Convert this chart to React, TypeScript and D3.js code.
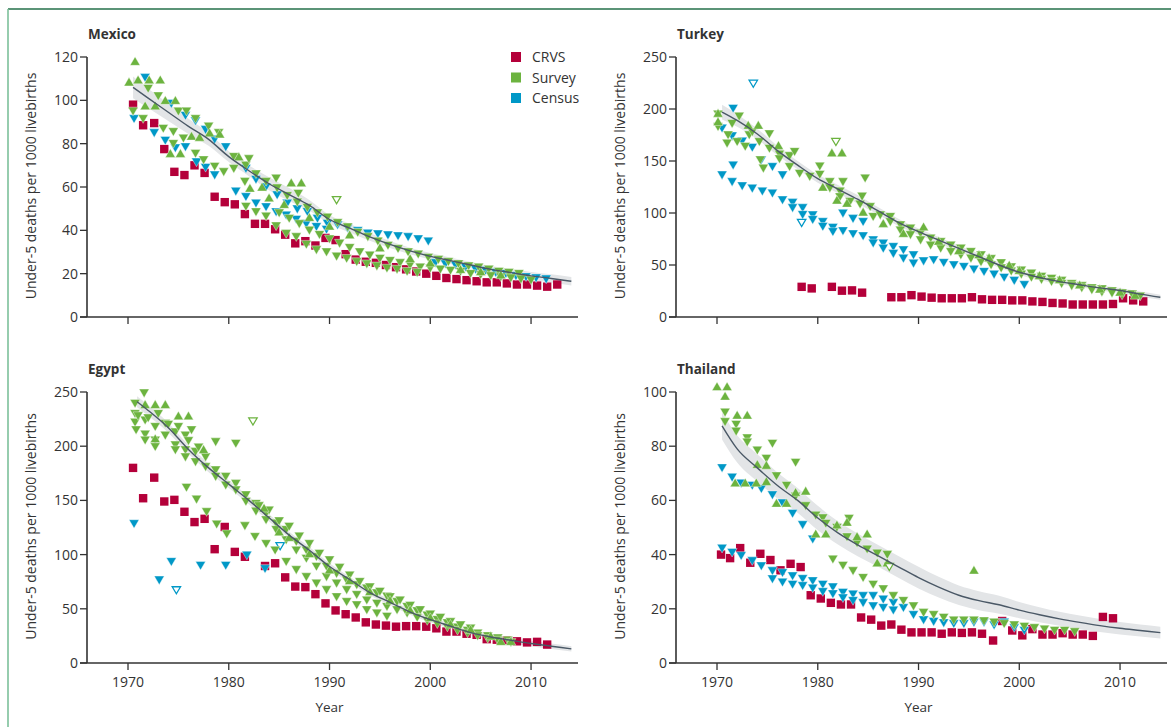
import React from 'react';
import * as d3 from 'd3';

type P = [number, number];
type B = [number, number, number];

// ---------- ticks & labels ----------
const yearTicks = [1970, 1980, 1990, 2000, 2010];
const mexicoTicks = [0, 20, 40, 60, 80, 100, 120];
const turkeyTicks = [0, 50, 100, 150, 200, 250];
const egyptTicks = [0, 50, 100, 150, 200, 250];
const thailandTicks = [0, 20, 40, 60, 80, 100];
const legendLabels = ['CRVS', 'Survey', 'Census'];
const yLabel = 'Under-5 deaths per 1000 livebirths';
const xLabel = 'Year';

// ---------- Mexico ----------
const mexicoCrvs: P[] = [[1970.5,98],[1971.5,88.5],[1972.6,89.5],[1973.6,77.5],[1974.6,67],[1975.6,65.5],[1976.6,70],[1977.6,66.5],[1978.6,55.5],[1979.6,53],[1980.6,52],[1981.6,47.5],[1982.6,43],[1983.6,43],[1984.6,40.5],[1985.6,38],[1986.6,34],[1987.6,35],[1988.6,33],[1989.6,36.5],[1990.6,35.5],[1991.6,29],[1992.6,26.5],[1993.6,25.5],[1994.6,25],[1995.6,24],[1996.6,23],[1997.6,22],[1998.6,21],[1999.6,20],[2000.6,19],[2001.6,18],[2002.6,17.5],[2003.6,17],[2004.6,16.5],[2005.6,16],[2006.6,16],[2007.6,15.5],[2008.6,15],[2009.6,15],[2010.6,14.5],[2011.6,14],[2012.6,15]];
const mexicoSurveyUp: P[] = [[1970.1,108.5],[1970.7,118],[1971,109.5],[1972.1,109.5],[1973.2,109.5],[1971.7,97.5],[1972.7,97.5],[1973.7,100],[1974.7,100],[1974.2,75.5],[1975.2,75.5],[1976.3,83.5],[1977.1,83],[1978.1,85],[1979.1,84.5],[1981,74],[1982.1,59.5],[1983.3,60],[1986.2,62],[1987.2,62],[1984,55],[1985.5,52],[1988,46],[1990,42],[1992,38],[1995,32],[1998,27],[2000,25],[2003,22],[2005,21],[2007,19.5]];
const mexicoSurveyDown: P[] = [[1970.5,95],[1971.5,91.5],[1972,105.5],[1973,102],[1973.5,87],[1974.5,85.5],[1974.5,80],[1975,95],[1975.5,82.5],[1975.8,95],[1976.7,91.5],[1976.7,75.5],[1977.5,72.5],[1978,88],[1978.6,69.5],[1979,85],[1979.5,67],[1980.5,68.5],[1980.5,74],[1981.6,62.5],[1981.7,70],[1982,73],[1982.7,66],[1983.7,62.5],[1984.7,64],[1984.8,59.5],[1985.8,56],[1986.9,57],[1986.8,53],[1987.8,50.5],[1988.8,48],[1989.8,46],[1990.8,43.5],[1991.8,41.5],[1992.8,39],[1993.8,37],[1994.8,35],[1995.8,33],[1996.8,31.5],[1997.8,30],[1998.8,29],[1999.8,27.5],[2000.8,26.5],[2001.8,25.5],[2002.8,24.5],[2003.8,23.5],[2004.8,23],[2005.8,22],[2006.8,21],[2007.8,20.5],[2008.8,20],[1985,48],[1986,45.5],[1987,43],[1988,40],[1989,38],[1990,36],[1991,34],[1992,32],[1993,30],[1994,28.5],[1995,27],[1996,26],[1997,25],[1998,24],[1999,23],[2000,22.5],[2001,22],[2002,21.5],[2003,21],[2004,20],[2005,19.5],[2006,19],[2007,18.5],[2008,18],[2009,17.5],[2010,17],[1981.7,51],[1982.7,48.5],[1983.7,46.5],[1984.7,42],[1985.7,38.5],[1986.7,37],[1987.7,33.5],[1988.7,31],[1989.7,30],[1990.7,28],[1991.7,27],[1992.7,25.5],[1993.7,24.5],[1994.7,23.5],[1995.7,22.5],[1996.7,22],[1997.7,21],[1998.7,20.5]];
const mexicoCensus: P[] = [[1970.6,91.5],[1971.7,110.5],[1972.6,85],[1973.7,81.5],[1974.3,98.5],[1974.7,78],[1975.7,78.5],[1975.7,93],[1976.7,90.5],[1976.8,71.5],[1977.7,86.5],[1977.7,69],[1978.6,65.5],[1978.6,82],[1979.7,78.5],[1980.7,58],[1981.7,68.5],[1981.7,55.5],[1982.7,63.5],[1982.7,52.5],[1983.7,60],[1983.7,50.8],[1984.8,56.3],[1984.7,48.5],[1985.8,52.5],[1985.7,47],[1986.8,49.8],[1986.7,45],[1987.8,48.6],[1987.7,43],[1988.8,45.5],[1988.7,41.7],[1989.8,43.2],[1989.7,40.4],[1990.8,42.5],[1991.8,41],[1992.8,39.8],[1993.8,38.6],[1994.8,38.3],[1995.8,37.8],[1996.8,37.4],[1997.8,37],[1998.8,36],[1999.8,35],[2000.5,25],[2001.5,24.5],[2002.5,24],[2003.5,23],[2004.5,22],[2005.5,21.5],[2006.5,20.5],[2007.5,20],[2008.5,19],[2009.5,18.5],[2010.5,18],[2011.5,17.5]];
const mexicoHollowSurvey: P[] = [[1990.7,54]];
const mexicoHollowCensus: P[] = [];
const mexicoFit: B[] = [[1970.5,106,5],[1972,101,4.5],[1974,94.5,4],[1976,88,3.5],[1978,82,3],[1980,74,2.5],[1982,67.5,2.5],[1984,61.5,3],[1986,56.5,3],[1988,51.5,2.5],[1990,45,2],[1992,41,2],[1994,37,1.8],[1996,33.5,1.6],[1998,30.5,1.5],[2000,28,1.5],[2002,26,1.5],[2004,24,1.5],[2006,22,1.5],[2008,20.5,1.6],[2010,19,1.8],[2012,17.8,1.9],[2014,16.5,2]];

// ---------- Turkey ----------
const turkeyCrvs: P[] = [[1978.4,29],[1979.4,27.5],[1981.4,29],[1982.4,25.3],[1983.4,25.6],[1984.4,23.4],[1987.3,19],[1988.3,19],[1989.3,21],[1990.3,19.6],[1991.3,18.6],[1992.3,18],[1993.3,18],[1994.3,18],[1995.3,19],[1996.3,17],[1997.3,16.5],[1998.3,16.5],[1999.3,16],[2000.3,16],[2001.3,15],[2002.3,14.5],[2003.3,13.5],[2004.3,13],[2005.3,12],[2006.3,12],[2007.3,12],[2008.3,12],[2009.3,12.5],[2010.3,18],[2011.3,16],[2012.3,15]];
const turkeySurveyUp: P[] = [[1970.1,196],[1970.1,188],[1973.1,184.5],[1974.1,184.5],[1976.1,165],[1981.4,158],[1982.4,158],[1980.5,125],[1981.9,112.5],[1982.9,109.5],[1984.5,101],[1986.5,90],[1988.5,80.5],[1990.5,86.8],[1992,73],[1994,64],[1996,60],[1997,57],[1999,50],[2000,45],[2002,40],[2004,36],[2006,31],[2008,27],[2010,24],[2011.5,21]];
const turkeySurveyDown: P[] = [[1970.1,195],[1970.1,183],[1971.1,175],[1971,167],[1972,168.5],[1972.2,193],[1973.2,175],[1972.8,164],[1974.2,168.5],[1975.2,176],[1975.2,162],[1974.3,151],[1974.6,143],[1976.2,156.5],[1976.2,152],[1977.2,155],[1977.2,144.5],[1977.7,159],[1978.2,138],[1979.2,135],[1980.2,145],[1980.2,137],[1981.2,130],[1981.2,124],[1982.2,121],[1982.2,115.5],[1982.5,130],[1983.2,111],[1984.2,108.5],[1984.4,116],[1984.7,133.5],[1985.2,106],[1985.5,96.5],[1986.2,98],[1987.2,96.5],[1987.2,91.5],[1988.2,88.5],[1988.2,83.5],[1989.2,85.3],[1989.2,79],[1990.2,80.5],[1990.2,74],[1991.2,75.7],[1991.2,69],[1992.2,72.4],[1992.2,66],[1993.2,69],[1993.2,62.8],[1994.2,66],[1994.2,59.6],[1995.2,62.8],[1995.2,56.4],[1996.2,59.6],[1996.2,53],[1997.2,56],[1997.2,50],[1998.2,52],[1998.2,47],[1999.2,48],[1999.2,44],[2000.2,45],[2000.2,41],[2001.2,42],[2001.2,38],[2002.2,39],[2002.2,36],[2003.2,37],[2003.2,34],[2004.2,35],[2004.2,32],[2005.2,32],[2005.2,30],[2006.2,30],[2006.2,28],[2007.2,28],[2007.2,26],[2008.2,27],[2008.2,24],[2009.2,25],[2009.2,23],[2010.2,23],[2010.2,21],[2011.2,22],[2012,20],[1971.5,186],[1973.5,178]];
const turkeyCensus: P[] = [[1970.5,181.5],[1971.6,200.5],[1971.5,174],[1972.5,169],[1973.5,163],[1974.4,151],[1975.5,144.5],[1976.5,136.5],[1977.5,110],[1977.5,105],[1978.5,105],[1978.5,98.4],[1979.5,98],[1979.5,93.6],[1980.5,91.6],[1980.5,87],[1981.5,86],[1981.5,82],[1982.5,82.8],[1982.5,99.7],[1983.5,79.8],[1983.5,94.6],[1984.5,77.9],[1984.5,91.6],[1985.5,74],[1985.5,71],[1986.5,70.8],[1986.5,66],[1987.5,67.6],[1987.5,61],[1988.5,64.4],[1988.5,56.4],[1989.5,59.6],[1989.5,51.6],[1990.5,53.8],[1991.5,54.8],[1992.5,52.2],[1993.5,50],[1994.5,48.4],[1995.5,45.8],[1996.5,43.6],[1997.5,41],[1998.5,38],[1999.5,35],[2000.5,31],[1970.5,136.5],[1971.5,130],[1971.6,146],[1972.5,126],[1973.5,123.7],[1974.5,121],[1975.5,119],[1976.5,112.5]];
const turkeyHollowSurvey: P[] = [[1981.8,168.5]];
const turkeyHollowCensus: P[] = [[1973.6,224.5],[1978.4,90.7]];
const turkeyFit: B[] = [[1970.5,197,7],[1972,189,6],[1974,176,5],[1976,160,4.5],[1978,146,4],[1980,133,4],[1982,123,4],[1984,113,4],[1986,102,3.5],[1988,91,3.5],[1990,82,3],[1992,74,3],[1994,66,3],[1996,58,3],[1998,50,2.5],[2000,43,2.5],[2002,38,2.5],[2004,34,2.5],[2006,31,2.5],[2008,28,2.5],[2010,25.5,2.5],[2012,22,2.5],[2014,19,2.5]];

// ---------- Egypt ----------
const egyptCrvs: P[] = [[1970.5,180],[1971.5,152],[1972.6,171],[1973.6,149],[1974.6,150.5],[1975.6,139.5],[1976.6,130],[1977.6,133],[1978.6,105],[1979.6,125.5],[1980.6,102.5],[1981.6,98],[1983.6,89.5],[1984.6,92],[1985.6,79],[1986.6,70.5],[1987.6,70],[1988.6,63.5],[1989.6,55],[1990.6,48.5],[1991.6,45],[1992.6,42],[1993.6,37.5],[1994.6,35.5],[1995.6,34.5],[1996.6,33.5],[1997.6,34],[1998.6,34],[1999.6,33.5],[2000.6,32],[2001.6,29],[2002.6,29],[2003.6,27],[2004.6,26],[2005.6,22],[2006.6,21.5],[2007.6,21],[2008.6,20],[2009.6,19],[2010.6,19.5],[2011.6,17]];
const egyptSurveyUp: P[] = [[1971.7,238.5],[1972.7,238.5],[1973.7,238.5],[1975,228],[1976,228],[1972.7,207],[1977.5,197],[1983.5,143],[1985,121],[1986,116],[1988,101],[1990,86],[1992,76],[1994,66],[1996,58],[1998,49],[2000,42],[2002,36],[2004,31],[2006,25],[2007,20],[2008,20]];
const egyptSurveyDown: P[] = [[1970.7,239.5],[1970.7,230],[1970.7,222],[1970.8,215],[1971.6,249],[1971.7,224],[1971.7,211],[1971.7,205.5],[1972.7,218],[1972.7,205.5],[1972.7,199.5],[1973.7,221],[1973.7,210],[1974.7,213],[1974.7,201],[1974.7,196.5],[1975.7,210],[1975.7,196.5],[1975.7,190],[1976.3,215],[1976.7,195],[1976.7,185.5],[1977.7,190],[1977.7,181],[1978.7,178],[1978.7,172],[1978.7,204],[1980.7,202.5],[1979.7,172],[1979.7,164],[1980.7,165.5],[1980.7,159.5],[1981.7,155],[1981.7,149],[1982.7,147],[1982.7,140],[1983.7,138],[1983.7,132],[1984.7,129],[1984.7,123],[1985.7,123],[1985.7,113.5],[1986.7,112],[1986.7,104],[1987.7,104],[1987.7,96.5],[1988.7,98],[1988.7,89],[1989.7,89],[1989.7,79.5],[1990.7,82.5],[1990.7,73.5],[1991.7,76.5],[1991.7,67.5],[1992.7,72],[1992.7,63],[1993.7,69],[1993.7,58],[1994.7,64.5],[1994.7,55],[1995.7,61.5],[1995.7,52],[1996.7,56.5],[1996.7,49],[1997.7,52],[1997.7,46],[1998.7,48],[1998.7,42],[1999.7,44],[1999.7,39],[2000.7,40],[2000.7,36],[2001.7,37],[2001.7,33],[2002.7,33],[2002.7,30],[2003.7,30],[2003.7,27.5],[2004.7,27.5],[2004.7,25],[2005.7,25],[2005.7,22.5],[2006.7,23],[2006.7,21],[2007.7,21],[2008,19],[1975.8,162],[1976.8,151],[1977.8,139.5],[1978.8,128],[1979.8,119],[1981.6,126.5],[1982.6,116.5],[1983.7,110],[1984.6,104],[1985.7,93.5],[1986.7,86],[1987.7,79.5],[1988.7,73.5],[1989.7,67.5],[1990.7,61],[1991.7,56.5],[1992.7,53.5],[1993.7,49],[1994.7,46],[1995.7,43],[1983,145],[1984,141],[1985,131],[1986,126],[1987,117],[1988,110],[1989,101],[1990,95],[1991,88],[1992,81],[1993,75],[1994,70],[1995,66],[1996,61],[1997,58],[1998,53],[1999,49],[2000,45],[2001,42],[2002,38],[2003,35],[2004,32],[1971,228],[1972,226],[1973,230],[1974,220],[1975,218],[1976,205],[1977,199]];
const egyptCensus: P[] = [[1970.6,128.5],[1974.3,93.5],[1973.1,76.5],[1977.2,90],[1979.7,90],[1981.8,99.5],[1983.6,87]];
const egyptHollowSurvey: P[] = [[1982.4,223]];
const egyptHollowCensus: P[] = [[1974.8,67.3],[1985.1,108]];
const egyptFit: B[] = [[1970.9,241,5],[1972,233,5],[1974,217,4.5],[1976,197,4],[1978,180,4],[1980,165,3.5],[1982,150,3.5],[1984,134,3.5],[1986,118,3],[1988,104,3],[1990,89,3],[1992,77,2.5],[1994,65,2.5],[1996,56,2.5],[1998,47,2.5],[2000,40,2.5],[2002,34,2.5],[2004,28,2.5],[2006,24,2.5],[2008,21,2.5],[2010,18,2.5],[2012,15.5,2.5],[2014,13,2.5]];

// ---------- Thailand ----------
const thailandCrvs: P[] = [[1970.4,40],[1971.3,38.7],[1972.3,42.4],[1973.3,37],[1974.3,40.3],[1975.3,38],[1976.3,34.2],[1977.3,36.6],[1978.3,35.4],[1979.3,25],[1980.3,23.8],[1981.3,22.2],[1982.3,21.6],[1983.3,21.6],[1984.3,16.8],[1985.3,16],[1986.3,13.8],[1987.3,14.2],[1988.3,12.3],[1989.3,11.3],[1990.3,11.3],[1991.3,11.3],[1992.3,10.8],[1993.3,11.3],[1994.3,11.1],[1995.3,11.3],[1996.3,10.8],[1997.4,8.3],[1998.3,15.5],[1999.3,12],[2000.3,10.2],[2001.3,12.5],[2002.3,10.5],[2003.3,10.5],[2004.3,11],[2005.3,10.5],[2006.3,10.5],[2007.3,10],[2008.3,17],[2009.3,16.5]];
const thailandSurveyUp: P[] = [[1970,102],[1971,102],[1970.8,98.5],[1972,91.5],[1973,91.5],[1971.8,66.5],[1972.8,66.5],[1973.9,66.5],[1974.9,67],[1975.9,59],[1976.9,59],[1974,73.3],[1974.9,73],[1977.8,63],[1978.8,63.5],[1979.8,47.7],[1980.8,47.7],[1981.9,51],[1982.9,52],[1983.9,46.7],[1984.9,47.7],[1985.9,37],[1986.9,37],[1995.5,34.3]];
const thailandSurveyDown: P[] = [[1970.8,92.5],[1970.8,89],[1971.9,88],[1971.9,85.5],[1973,83],[1973,81.5],[1974,78.5],[1974.9,75.5],[1975.5,81],[1975.9,69],[1976.9,65.5],[1977.8,74],[1977.8,61.5],[1978.8,58],[1979.8,54.5],[1980.5,53.5],[1980.8,51.5],[1981.9,50],[1982.9,46.5],[1983.1,53.3],[1983.9,44.3],[1984.9,42],[1985.9,40.5],[1986.9,40],[1981.5,38.3],[1982.5,36],[1983.5,34],[1984.5,31.5],[1985.5,29],[1986.5,27.3],[1987.5,24.8],[1988.5,23],[1989.5,21],[1990.5,18.6],[1991.5,17.8],[1992.5,16.8],[1993.5,15.8],[1994.5,15.8],[1995.5,15.8],[1996.5,15.5],[1997.5,15],[1998.5,14.5],[1999.5,14],[2000.5,13.5],[2001.5,13],[2002.5,12.5],[2003.5,12],[2004.5,12],[2005.5,11.5]];
const thailandCensus: P[] = [[1970.5,72],[1971.5,68.5],[1972.4,66.3],[1973.5,65.5],[1974.4,64.3],[1975.5,62],[1976.5,59],[1977.5,55.2],[1978.5,51],[1979.5,45.7],[1970.5,42.3],[1971.5,40.8],[1972.4,39.6],[1973.5,37.7],[1974.4,35.8],[1975.5,34],[1975.5,31],[1976.5,33.3],[1976.5,29.8],[1977.5,32.1],[1977.5,29],[1978.5,31.1],[1978.5,28.5],[1979.5,30.3],[1979.5,27.6],[1980.5,29],[1980.5,26.3],[1981.5,28],[1981.5,25.5],[1982.5,26],[1982.5,24],[1983.5,25.4],[1983.5,23],[1984.5,24.8],[1984.5,22.2],[1985.5,24.8],[1985.5,21],[1986.5,23.5],[1986.5,20.4],[1987.5,22.2],[1987.5,19.5],[1988.5,20.4],[1989.5,17.8],[1990.5,15.9],[1991.5,15.3],[1992.5,14.8],[1993.5,14.5],[1994.5,14.5],[1995.5,15],[1996.5,15],[1997.5,14],[1998.5,15],[1999.5,13],[2000.5,12]];
const thailandHollowSurvey: P[] = [[1987.1,35.5]];
const thailandHollowCensus: P[] = [];
const thailandFit: B[] = [[1970.5,87.5,5],[1972,79,5],[1974,72,5],[1976,65.5,4.8],[1978,60,4.6],[1980,53.5,4.5],[1982,48,4.3],[1984,43.5,4.2],[1986,39.5,4],[1988,35.5,4],[1990,31.5,4],[1992,28,3.8],[1994,25,3.6],[1996,23,3.5],[1998,21.5,3.3],[2000,19.5,3],[2002,17.8,2.8],[2004,16.3,2.6],[2006,15,2.5],[2008,13.8,2.4],[2010,12.8,2.3],[2012,12,2.2],[2014,11.2,2.2]];

// ---------- styling ----------
const COL_CRVS = '#b4003a';
const COL_SURVEY = '#6cb33f';
const COL_CENSUS = '#0098c7';
const COL_TEXT = '#333333';
const COL_LINE = '#4a5866';
const COL_BAND = '#e3e5e7';
const FONT = "'Open Sans', 'Noto Sans', sans-serif";

const X_DOMAIN: [number, number] = [1965.93, 2014.66];
const PANEL_W = 491;

const upTri = 'M0,-4.6L5,4L-5,4Z';
const downTri = 'M-5,-4L5,-4L0,4.6Z';
const downTriH = 'M-4.2,-3.3L4.2,-3.3L0,3.8Z';

interface PanelProps {
  title: string;
  x0: number;
  yTop: number;
  yBottom: number;
  ticks: number[];
  crvs: P[];
  surveyUp: P[];
  surveyDown: P[];
  census: P[];
  hollowSurvey: P[];
  hollowCensus: P[];
  fit: B[];
  showXLabels: boolean;
  legend?: boolean;
}

function Panel(p: PanelProps) {
  const x = d3.scaleLinear().domain(X_DOMAIN).range([p.x0, p.x0 + PANEL_W]);
  const yMax = p.ticks[p.ticks.length - 1];
  const y = d3.scaleLinear().domain([0, yMax]).range([p.yBottom, p.yTop]);
  const area = d3.area<B>().x(d => x(d[0])).y0(d => y(d[1] - d[2])).y1(d => y(d[1] + d[2])).curve(d3.curveMonotoneX);
  const line = d3.line<B>().x(d => x(d[0])).y(d => y(d[1])).curve(d3.curveMonotoneX);
  const yMid = (p.yTop + p.yBottom) / 2 - 1;
  return (
    <g>
      <text x={p.x0 + 1} y={p.yTop - 18} fontFamily={FONT} fontWeight={700} fontSize={13.5} fill={COL_TEXT}>{p.title}</text>
      <path d={area(p.fit) || ''} fill={COL_BAND} />
      {p.crvs.map((d, i) => (
        <rect key={'c' + i} x={x(d[0]) - 4.2} y={y(d[1]) - 4.2} width={8.4} height={8.4} fill={COL_CRVS} />
      ))}
      {p.census.map((d, i) => (
        <path key={'n' + i} d={downTri} transform={`translate(${x(d[0])},${y(d[1])})`} fill={COL_CENSUS} stroke="#ffffff" strokeWidth={0.4} />
      ))}
      {p.hollowCensus.map((d, i) => (
        <path key={'hn' + i} d={downTriH} transform={`translate(${x(d[0])},${y(d[1])})`} fill="#ffffff" stroke={COL_CENSUS} strokeWidth={1.3} />
      ))}
      {p.surveyDown.map((d, i) => (
        <path key={'sd' + i} d={downTri} transform={`translate(${x(d[0])},${y(d[1])})`} fill={COL_SURVEY} stroke="#ffffff" strokeWidth={0.4} />
      ))}
      {p.surveyUp.map((d, i) => (
        <path key={'su' + i} d={upTri} transform={`translate(${x(d[0])},${y(d[1])})`} fill={COL_SURVEY} stroke="#ffffff" strokeWidth={0.4} />
      ))}
      {p.hollowSurvey.map((d, i) => (
        <path key={'hs' + i} d={downTriH} transform={`translate(${x(d[0])},${y(d[1])})`} fill="#ffffff" stroke={COL_SURVEY} strokeWidth={1.3} />
      ))}
      <path d={line(p.fit) || ''} fill="none" stroke={COL_LINE} strokeWidth={1.4} />
      {/* axes */}
      <line x1={p.x0} x2={p.x0} y1={p.yTop} y2={p.yBottom} stroke={COL_TEXT} strokeWidth={1.6} />
      <line x1={p.x0 - 7} x2={p.x0 + PANEL_W} y1={p.yBottom} y2={p.yBottom} stroke={COL_TEXT} strokeWidth={1.6} />
      {p.ticks.map(t => (
        <g key={'yt' + t}>
          <line x1={p.x0 - 7} x2={p.x0} y1={y(t)} y2={y(t)} stroke={COL_TEXT} strokeWidth={1.3} />
          <text x={p.x0 - 9} y={y(t)} dy="0.35em" textAnchor="end" fontFamily={FONT} fontSize={14} fill={COL_TEXT}>{t}</text>
        </g>
      ))}
      {yearTicks.map(t => (
        <g key={'xt' + t}>
          <line x1={x(t)} x2={x(t)} y1={p.yBottom} y2={p.yBottom + 7} stroke={COL_TEXT} strokeWidth={1.3} />
          {p.showXLabels && (
            <text x={x(t)} y={p.yBottom + 24} textAnchor="middle" fontFamily={FONT} fontSize={14} fill={COL_TEXT}>{t}</text>
          )}
        </g>
      ))}
      {p.showXLabels && (
        <text x={x(1990)} y={p.yBottom + 49} textAnchor="middle" fontFamily={FONT} fontSize={13.5} fill={COL_TEXT}>{xLabel}</text>
      )}
      <text transform={`translate(${p.x0 - 51},${yMid}) rotate(-90)`} textAnchor="middle" fontFamily={FONT} fontSize={14} fill={COL_TEXT}>{yLabel}</text>
      {p.legend && (
        <g>
          {[COL_CRVS, COL_SURVEY, COL_CENSUS].map((c, i) => (
            <g key={'lg' + i}>
              <rect x={511} y={52 + i * 20.5} width={10} height={10} fill={c} />
              <text x={532} y={62 + i * 20.5} fontFamily={FONT} fontSize={14} fill={COL_TEXT}>{legendLabels[i]}</text>
            </g>
          ))}
        </g>
      )}
    </g>
  );
}

export default function App() {
  return (
    <svg width={1171} height={727} style={{ position: 'absolute', left: 0, top: 0, background: '#ffffff' }}>
      <rect x={0} y={0} width={1171} height={727} fill="#ffffff" />
      <line x1={8} x2={1171} y1={9} y2={9} stroke="#25704a" strokeWidth={1.6} />
      <line x1={8} x2={8} y1={9} y2={727} stroke="#7cc09a" strokeWidth={1.6} />
      <Panel title="Mexico" x0={87} yTop={57} yBottom={317} ticks={mexicoTicks} crvs={mexicoCrvs} surveyUp={mexicoSurveyUp} surveyDown={mexicoSurveyDown} census={mexicoCensus} hollowSurvey={mexicoHollowSurvey} hollowCensus={mexicoHollowCensus} fit={mexicoFit} showXLabels={false} legend />
      <Panel title="Turkey" x0={676} yTop={57} yBottom={317} ticks={turkeyTicks} crvs={turkeyCrvs} surveyUp={turkeySurveyUp} surveyDown={turkeySurveyDown} census={turkeyCensus} hollowSurvey={turkeyHollowSurvey} hollowCensus={turkeyHollowCensus} fit={turkeyFit} showXLabels={false} />
      <Panel title="Egypt" x0={87} yTop={392} yBottom={663} ticks={egyptTicks} crvs={egyptCrvs} surveyUp={egyptSurveyUp} surveyDown={egyptSurveyDown} census={egyptCensus} hollowSurvey={egyptHollowSurvey} hollowCensus={egyptHollowCensus} fit={egyptFit} showXLabels />
      <Panel title="Thailand" x0={676} yTop={392} yBottom={663} ticks={thailandTicks} crvs={thailandCrvs} surveyUp={thailandSurveyUp} surveyDown={thailandSurveyDown} census={thailandCensus} hollowSurvey={thailandHollowSurvey} hollowCensus={thailandHollowCensus} fit={thailandFit} showXLabels />
    </svg>
  );
}
